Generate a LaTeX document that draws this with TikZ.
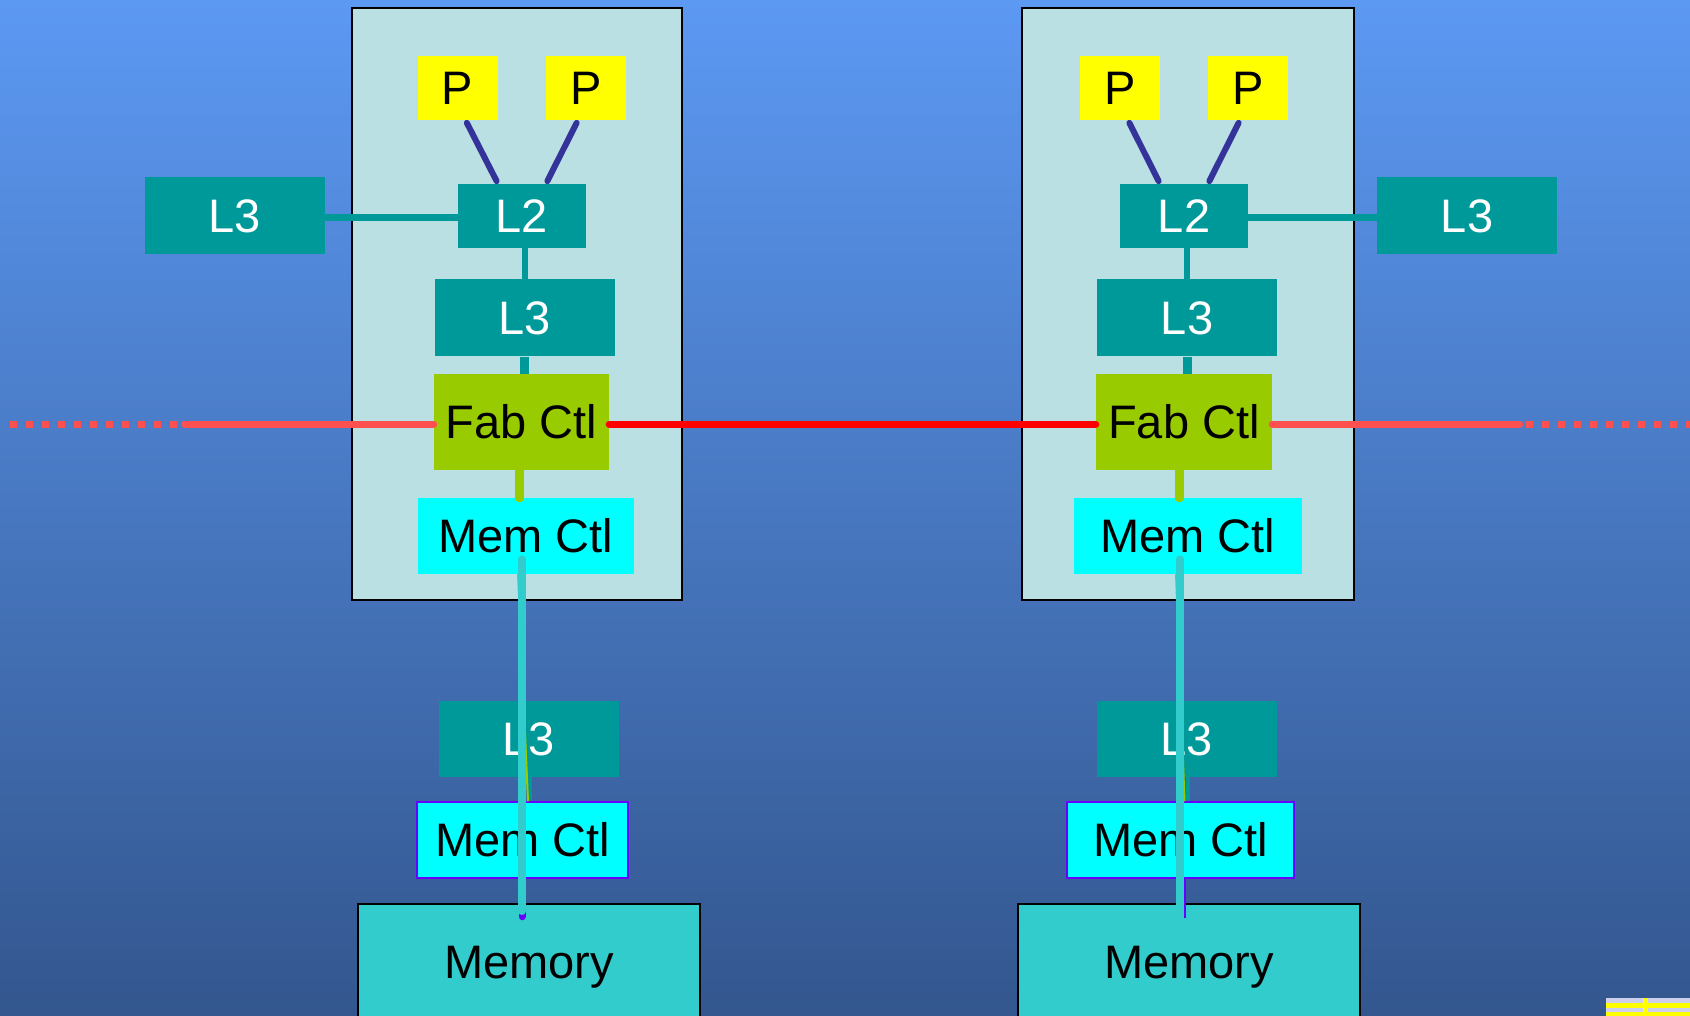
\documentclass[tikz,border=0pt]{standalone}
\usepackage{fontspec}
\setmainfont{Liberation Sans}
\usepackage{tikz}
\definecolor{bgtop}{RGB}{92,153,243}
\definecolor{bgbot}{RGB}{51,86,142}
\definecolor{chipfill}{RGB}{187,224,227}
\definecolor{cachefill}{RGB}{0,153,153}
\definecolor{procfill}{RGB}{255,255,0}
\definecolor{fabfill}{RGB}{153,204,0}
\definecolor{memctlfill}{RGB}{0,255,255}
\definecolor{memfill}{RGB}{51,204,204}
\definecolor{busblue}{RGB}{51,51,153}
\definecolor{linkred}{RGB}{255,80,80}
\definecolor{edgeviolet}{RGB}{102,0,255}
\definecolor{sorterfill}{RGB}{204,208,236}

\begin{document}
\begin{tikzpicture}[x=1pt,y=-1pt,
  every node/.style={inner sep=0pt,font=\fontsize{47}{50}\selectfont},
  chip/.style={draw=black,line width=2pt,fill=chipfill},
  cache/.style={fill=cachefill,text=white,minimum width=180pt,minimum height=77pt},
  proc/.style={fill=procfill,minimum width=80pt,minimum height=64pt},
  fab/.style={fill=fabfill,minimum height=95pt},
  memctl/.style={fill=memctlfill,minimum height=76pt},
  memory/.style={draw=black,line width=1.5pt,fill=memfill,minimum width=342pt,minimum height=126pt},
  pbus/.style={busblue,line width=6pt,line cap=round,shorten <=3pt,shorten >=3pt},
  link/.style={linkred,line width=7pt,line cap=round},
  linkdots/.style={linkred,line width=7pt,dash pattern=on 7pt off 9pt},
  membus/.style={memfill,line width=7.5pt,line cap=round}]
\useasboundingbox (0,0) rectangle (1690,1016);
\shade[top color=bgtop,bottom color=bgbot] (0,0) rectangle (1690,1016);

\node[chip,minimum width=330pt,minimum height=592pt] (chipl) at (517,304) {};
\node[chip,minimum width=332pt,minimum height=592pt] (chipr) at (1188,304) {};

\node[proc] (p1l) at (457.5,88) {P};
\node[proc] (p2l) at (586,88) {P};
\node[cache,minimum width=128pt,minimum height=64pt] (l2l) at (522,216) {L2};
\node[cache] (l3outl) at (235,216) {L3};
\node[cache] (l3l) at (524.5,318) {L3};
\node[fab,minimum width=175pt] (fabl) at (521.5,422) {Fab Ctl};
\node[memctl,minimum width=216pt] (memul) at (526,536) {Mem Ctl};
\node[cache,minimum height=76pt] (l3lowl) at (529,739) {L3};
\node[memctl,draw=edgeviolet,line width=1.5pt,minimum width=211pt] (memll) at (522.5,840) {Mem Ctl};
\node[memory] (memoryl) at (529,967) {Memory};

\node[proc] (p1r) at (1120,88) {P};
\node[proc] (p2r) at (1248,88) {P};
\node[cache,minimum width=128pt,minimum height=64pt] (l2r) at (1184,216) {L2};
\node[cache] (l3outr) at (1467,216) {L3};
\node[cache] (l3r) at (1187,318) {L3};
\node[fab,minimum width=176pt] (fabr) at (1184,422) {Fab Ctl};
\node[memctl,minimum width=228pt] (memur) at (1188,536) {Mem Ctl};
\node[cache,minimum height=76pt] (l3lowr) at (1186.5,739) {L3};
\node[memctl,draw=edgeviolet,line width=1.5pt,minimum width=227pt] (memlr) at (1180.5,840) {Mem Ctl};
\node[memory] (memoryr) at (1189,967) {Memory};

\draw[pbus] ([xshift=8pt]p1l.south) -- ([xshift=-24pt]l2l.north);
\draw[pbus] ([xshift=-8pt]p2l.south) -- ([xshift=24pt]l2l.north);
\draw[pbus] ([xshift=8pt]p1r.south) -- ([xshift=-24pt]l2r.north);
\draw[pbus] ([xshift=-8pt]p2r.south) -- ([xshift=24pt]l2r.north);

\draw[cachefill,line width=7pt] ([yshift=-2pt]l2l.west) -- ([yshift=-2pt]l3outl.east);
\draw[cachefill,line width=7pt] ([yshift=-2pt]l2r.east) -- ([yshift=-2pt]l3outr.west);
\draw[cachefill,line width=6pt] (l3l.north |- l2l.south) -- (l3l.north);
\draw[cachefill,line width=6pt] (l3r.north |- l2r.south) -- (l3r.north);
\draw[cachefill,line width=9pt] (l3l.south) -- (l3l.south |- fabl.north);
\draw[cachefill,line width=9pt] (l3r.south) -- (l3r.south |- fabr.north);

\draw[fabfill,line width=9pt,line cap=round] ([xshift=-2pt]fabl.south) -- ([xshift=-2pt]fabl.south |- memul.north);
\draw[fabfill,line width=9pt,line cap=round] ([xshift=-5pt]fabr.south) -- ([xshift=-5pt]fabr.south |- memur.north);

\draw[red,line width=7pt,line cap=round] ([yshift=-2pt]fabl.east) -- ([yshift=-2pt]fabr.west);
\draw[link] ([yshift=-2pt]fabl.west) -- ++(-249,0) coordinate (lwire);
\draw[linkdots] ([xshift=-8pt]lwire) -- ++(-167,0);
\draw[link] ([yshift=-2pt]fabr.east) -- ++(247.5,0) coordinate (rwire);
\draw[linkdots] ([xshift=6.5pt]rwire) -- ++(170,0);

\draw[cachefill,line width=4pt] ([xshift=1pt]l3lowl.south) -- ([xshift=1pt]l3lowl.south |- memll.north);
\draw[cachefill,line width=4pt] ([xshift=1pt]l3lowr.south) -- ([xshift=1pt]l3lowr.south |- memlr.north);
\draw[fabfill,line width=2pt] ([xshift=-8pt]memul.south) -- ([xshift=5.5pt]memll.north);
\draw[fabfill,line width=2pt] ([xshift=-12pt]memur.south) -- ([xshift=4pt]memlr.north);

\draw[edgeviolet,line width=7pt,line cap=round] ([xshift=-0.5pt]memll.south) -- ++(0,38);
\draw[edgeviolet,line width=2pt] ([xshift=4.5pt]memlr.south) -- ++(0,39);
\draw[membus] ([xshift=-4pt,yshift=15pt]memul.south) -- ++(0,352);
\draw[membus] ([xshift=-8pt,yshift=15pt]memur.south) -- ++(0,355);

\fill[sorterfill] (1606,998) rectangle (1690,1016);
\fill[procfill] (1606,1003) rectangle (1690,1008);
\fill[procfill] (1606,1012) rectangle (1690,1016);
\fill[procfill] (1643,998) rectangle (1648,1016);
\end{tikzpicture}
\end{document}
